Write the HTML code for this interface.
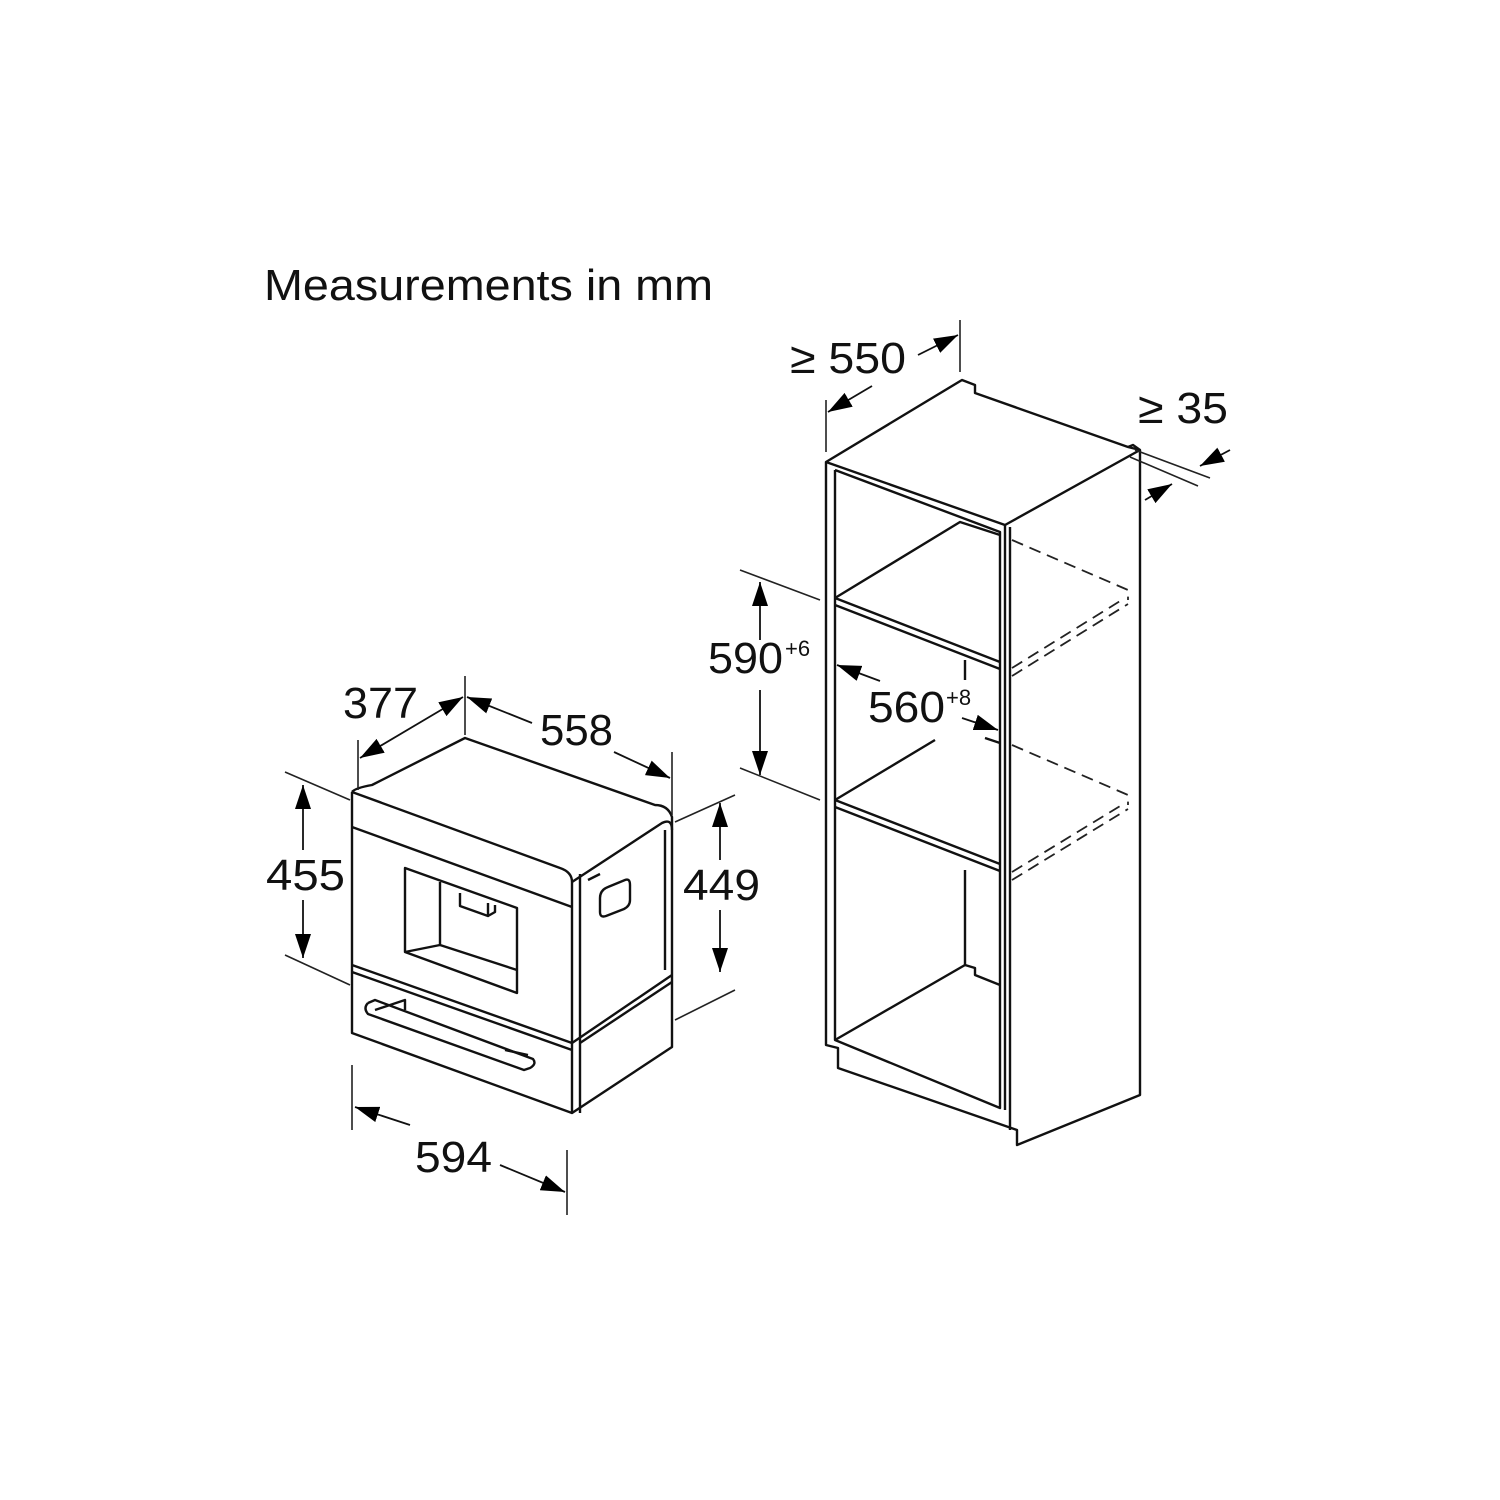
<!DOCTYPE html>
<html><head><style>html,body{margin:0;padding:0;background:#fff}svg{display:block}</style></head><body>
<svg width="1500" height="1500" viewBox="0 0 1500 1500" xmlns="http://www.w3.org/2000/svg">
<defs>
<marker id="b" viewBox="0 0 10 10" refX="10" refY="5" markerWidth="24" markerHeight="16" orient="auto-start-reverse" markerUnits="userSpaceOnUse" preserveAspectRatio="none"><path d="M0,0 L10,5 L0,10 z" fill="#000"/></marker>
</defs>
<g font-family="Liberation Sans, sans-serif" fill="#111">
<text x="264" y="300" font-size="44" textLength="449" lengthAdjust="spacingAndGlyphs">Measurements in mm</text>
<text x="343" y="718" font-size="44" textLength="75" lengthAdjust="spacingAndGlyphs">377</text>
<text x="540" y="745" font-size="44" textLength="73" lengthAdjust="spacingAndGlyphs">558</text>
<text x="266" y="890" font-size="44" textLength="79" lengthAdjust="spacingAndGlyphs">455</text>
<text x="683" y="900" font-size="44" textLength="77" lengthAdjust="spacingAndGlyphs">449</text>
<text x="415" y="1172" font-size="44" textLength="77" lengthAdjust="spacingAndGlyphs">594</text>
<text x="790" y="373" font-size="44" textLength="116" lengthAdjust="spacingAndGlyphs">≥ 550</text>
<text x="1138" y="423" font-size="44" textLength="90" lengthAdjust="spacingAndGlyphs">≥ 35</text>
<text x="708" y="673" font-size="44" textLength="75" lengthAdjust="spacingAndGlyphs">590</text>
<text x="785" y="656" font-size="22">+6</text>
<text x="868" y="722" font-size="44" textLength="77" lengthAdjust="spacingAndGlyphs">560</text>
<text x="946" y="705" font-size="22">+8</text>
</g>
<g stroke="#111" stroke-width="2.4" fill="none" stroke-linejoin="round">
<path d="M352,792 L352,1033 L572,1113 L672,1047 L672,817 Q668,805 655,805 L465,738 L372,785 Q355,788 352,792"/>
<path d="M352,792 L560,868 Q572,872 572,882 L572,1113"/>
<path d="M572,882 L662,823 Q672,818 672,830"/>
<path d="M580,874 L580,1113"/>
<path d="M352,827 L572,907"/>
<path d="M352,965 L572,1043 L672,975"/>
<path d="M352,972 L572,1050"/>
<path d="M580,1043 L672,982"/>
<path d="M665,830 L665,970"/>
<path d="M588,880 L600,874"/>
<path d="M405,868 L517,908 L517,993 L405,952 Z"/>
<path d="M440,882 L440,945 L517,970"/>
<path d="M440,945 L405,952"/>
<path d="M460,893 L460,906 L488,916 L488,903"/>
<path d="M488,916 L495,912 L495,905"/>
<path d="M600,898 Q600,890 608,887 L625,880 Q630,878 630,885 L630,900 Q630,906 624,909 L606,916 Q600,918 600,912 Z"/>
<path d="M368,1003 L375,1000 L533,1059 Q537,1064 530,1068 L524,1070 L368,1014 Q363,1008 368,1003"/>
<path d="M375,1010 L405,1000 L405,1010 M505,1050 L528,1055"/>
<path d="M826,462 L962,380 L975,385 L975,393 L1128,447 L1140,450 L1140,1095 L1017,1145 L1017,1130 L838,1068 L838,1048 L826,1045 Z"/>
<path d="M826,462 L1005,525 L1140,450"/>
<path d="M1005,525 L1005,1110 M1010,527 L1010,1130"/>
<path d="M835,470 L835,1040 L1000,1108 L1000,532 L835,470"/>
<path d="M835,598 L1000,662 M835,605 L1000,669"/>
<path d="M835,800 L1000,864 M835,807 L1000,871"/>
<path d="M835,598 L960,522 L1000,535"/>
<path d="M835,800 L935,740"/>
<path d="M835,1040 L965,965 L975,968 L975,975 L1000,985"/>
<path d="M965,870 L965,965"/>
<path d="M965,660 L965,680 M985,738 L1000,743"/>
<path d="M1128,447 L1133,445 L1140,450"/>
</g>
<g stroke="#222" stroke-width="1.8" fill="none" stroke-dasharray="12,7">
<path d="M1012,540 L1128,590 L1128,600"/>
<path d="M1012,668 L1125,598 M1012,676 L1128,604"/>
<path d="M1012,745 L1128,795 L1128,805"/>
<path d="M1012,872 L1125,803 M1012,880 L1128,809"/>
</g>
<g stroke="#222" stroke-width="1.6" fill="none">
<path d="M358,740 L358,790 M465,676 L465,735 M672,752 L672,815"/>
<path d="M285,772 L350,800 M285,955 L350,985"/>
<path d="M675,822 L735,795 M675,1020 L735,990"/>
<path d="M352,1065 L352,1130 M567,1150 L567,1215"/>
<path d="M826,400 L826,452 M960,320 L960,372"/>
<path d="M740,570 L820,600 M740,768 L820,800"/>
<path d="M1135,450 L1210,478 M1130,457 L1198,486"/>
</g>
<g stroke="#111" stroke-width="1.8" fill="none">
<path d="M360,758 L463,697" marker-start="url(#b)" marker-end="url(#b)"/>
<path d="M532,723 L467,697" marker-end="url(#b)"/>
<path d="M614,752 L670,778" marker-end="url(#b)"/>
<path d="M303,850 L303,785" marker-end="url(#b)"/>
<path d="M303,900 L303,958" marker-end="url(#b)"/>
<path d="M720,860 L720,803" marker-end="url(#b)"/>
<path d="M720,910 L720,972" marker-end="url(#b)"/>
<path d="M410,1125 L355,1107" marker-end="url(#b)"/>
<path d="M500,1165 L565,1192" marker-end="url(#b)"/>
<path d="M872,386 L828,412" marker-end="url(#b)"/>
<path d="M918,355 L958,335" marker-end="url(#b)"/>
<path d="M760,640 L760,582" marker-end="url(#b)"/>
<path d="M760,690 L760,775" marker-end="url(#b)"/>
<path d="M880,681 L837,665" marker-end="url(#b)"/>
<path d="M962,718 L998,730" marker-end="url(#b)"/>
<path d="M1230,450 L1200,466" marker-end="url(#b)"/>
<path d="M1145,500 L1172,484" marker-end="url(#b)"/>
</g>
</svg>
</body></html>
